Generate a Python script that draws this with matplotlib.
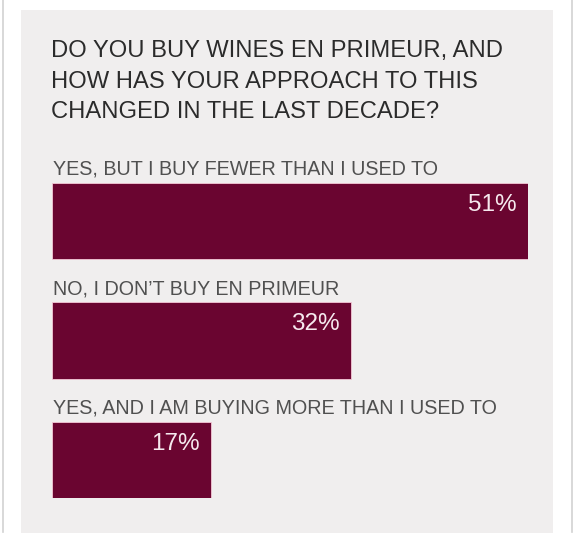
import matplotlib
matplotlib.use('Agg')
import matplotlib.pyplot as plt
from matplotlib.patches import Rectangle
from matplotlib.lines import Line2D

plt.rcParams['font.family'] = ['Liberation Sans', 'DejaVu Sans']

# data
title_lines = ['DO YOU BUY WINES EN PRIMEUR, AND',
               'HOW HAS YOUR APPROACH TO THIS',
               'CHANGED IN THE LAST DECADE?']
answers = ['YES, BUT I BUY FEWER THAN I USED TO',
           'NO, I DON\u2019T BUY EN PRIMEUR',
           'YES, AND I AM BUYING MORE THAN I USED TO']
shares = [51, 32, 17]

W, H = 574, 550
bar_color = '#6a0530'
panel_color = '#f0eeee'

fig = plt.figure(figsize=(W / 100, H / 100), dpi=100, facecolor='white')


def fx(px):
    return px / W


def fy(py):
    return 1 - py / H


# grey panel + thin side rules
fig.add_artist(Rectangle((fx(21), fy(533)), fx(553) - fx(21), fy(10) - fy(533),
                         transform=fig.transFigure, facecolor=panel_color,
                         edgecolor='none', zorder=0))
for xp in (2.5, 572):
    fig.add_artist(Line2D([fx(xp), fx(xp)], [fy(0), fy(532)], transform=fig.transFigure,
                          color='#d2d2d2', lw=1.2, zorder=0))

# title
for i, line in enumerate(title_lines):
    fig.text(fx(51), fy(57.5 + i * 30), line, fontsize=17.1, color='#2b2b2b',
             ha='left', va='baseline')

# bars
bar_h = 0.636
ax = fig.add_axes([fx(52), fy(498), fx(528) - fx(52), fy(183) - fy(498)])
ax.set_facecolor('none')
ypos = list(range(len(answers)))
ax.barh(ypos, shares, height=bar_h, color=bar_color, edgecolor='#f4c9d6', linewidth=0.6)
ax.set_xlim(0, max(shares))
ax.set_ylim(len(answers) - 1 + bar_h / 2, -bar_h / 2)
ax.axis('off')

for y, lab, v in zip(ypos, answers, shares):
    ax.annotate(lab, xy=(0, y - bar_h / 2), xytext=(1, 8), textcoords='offset pixels',
                fontsize=14.2, color='#505050', ha='left', va='baseline',
                annotation_clip=False)
    ax.annotate(f'{v}%', xy=(v, y - bar_h / 2), xytext=(-11, -22), textcoords='offset pixels',
                fontsize=17.5, color='#f6e9ee', ha='right', va='center',
                annotation_clip=False)

fig.savefig('out.png', dpi=100, facecolor='white')
